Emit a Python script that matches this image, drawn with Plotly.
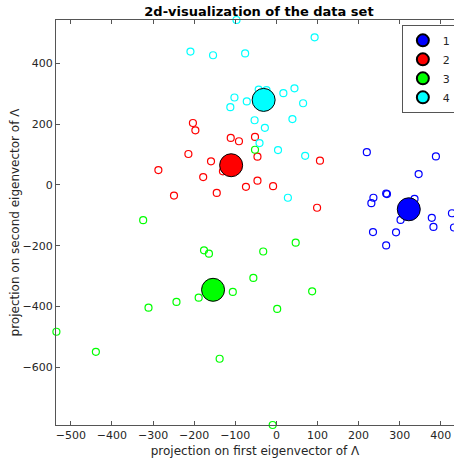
import plotly.graph_objects as go

# ---- data ----
blue_x = [220, 388, 346, 267, 269, 236, 231, 336, 302, 378, 382, 427, 432, 235, 291, 267]
blue_y = [108, 94, 36, -28, -30, -42, -60, -46, -115, -108, -138, -93, -140, -155, -156, -199]

red_x = [-203, -197, -111, -91, -52, -46, -214, -159, -287, -178, -130, -46, -74, -8, -145, -249, 106, 99]
red_y = [204, 180, 155, 144, 158, 93, 102, 78, 49, 26, 45, 14, -6, -4, -26, -35, 80, -75]

green_x = [-52, -324, -176, -164, 47, -32, -56, -106, -189, -243, -311, 87, 2, -535, -439, -138, -9]
green_y = [116, -116, -215, -226, -190, -219, -306, -352, -371, -385, -404, -350, -408, -483, -549, -572, -790]

cyan_x = [-97, -209, -154, -76, 93, -102, -72, -112, -43, -24, 17, 44, 65, -53, -28, 39, -41, 4, 70, 28]
cyan_y = [543, 439, 427, 433, 486, 288, 275, 256, 314, 312, 302, 318, 269, 213, 188, 217, 138, 115, 96, -42]

cluster_names = ["1", "2", "3", "4"]
centroid_x = [322, -110, -154, -31]
centroid_y = [-80, 65, -345, 280]
colors = ["#0000ff", "#ff0000", "#00ff00", "#00ffff"]

x_ticks = [-500, -400, -300, -200, -100, 0, 100, 200, 300, 400]
y_ticks = [-600, -400, -200, 0, 200, 400]

fig = go.Figure()
for xs, ys, c in zip([blue_x, red_x, green_x, cyan_x], [blue_y, red_y, green_y, cyan_y], colors):
    fig.add_trace(go.Scatter(x=xs, y=ys, mode="markers", showlegend=False,
                             marker=dict(symbol="circle-open", size=7, color=c, line=dict(width=1.2, color=c)),
                             cliponaxis=False))
for i in range(4):
    fig.add_trace(go.Scatter(x=[centroid_x[i]], y=[centroid_y[i]], mode="markers", name=cluster_names[i],
                             marker=dict(symbol="circle", size=23, color=colors[i], line=dict(width=1, color="black"))))

font = "DejaVu Sans"
fig.update_layout(
    width=454, height=464,
    margin=dict(l=56, r=0, t=20, b=39, autoexpand=False),
    paper_bgcolor="white", plot_bgcolor="white",
    font=dict(family=font, size=11, color="#262626"),
    title=dict(text="2d-visualization of the data set", xref="paper", x=0.51, xanchor="center",
               yref="container", y=1 - 11 / 464, yanchor="middle",
               font=dict(family=font, size=13, color="black", weight="bold")),
    legend=dict(x=0.869, y=0.988, xanchor="left", yanchor="top", bgcolor="white",
                bordercolor="#555", borderwidth=1, font=dict(size=11), itemsizing="constant",
                tracegroupgap=0),
    showlegend=True,
)
fig.update_xaxes(range=[-536, 432], tickvals=x_ticks, ticks="inside", ticklen=4, tickcolor="#555",
                 showline=True, linecolor="#555", linewidth=1, mirror="ticks", showgrid=False, zeroline=False,
                 automargin=False,
                 title=dict(text="projection on first eigenvector of Λ", font=dict(size=12), standoff=5))
fig.update_yaxes(range=[-790, 543], tickvals=y_ticks, ticks="inside", ticklen=4, tickcolor="#555",
                 showline=True, linecolor="#555", linewidth=1, showgrid=False, zeroline=False,
                 automargin=False,
                 title=dict(text="projection on second eigenvector of Λ", font=dict(size=12), standoff=0))

fig.write_html("out.html", config={"displayModeBar": False},
               post_script="document.body.style.margin='0px';document.body.style.overflow='hidden';")
